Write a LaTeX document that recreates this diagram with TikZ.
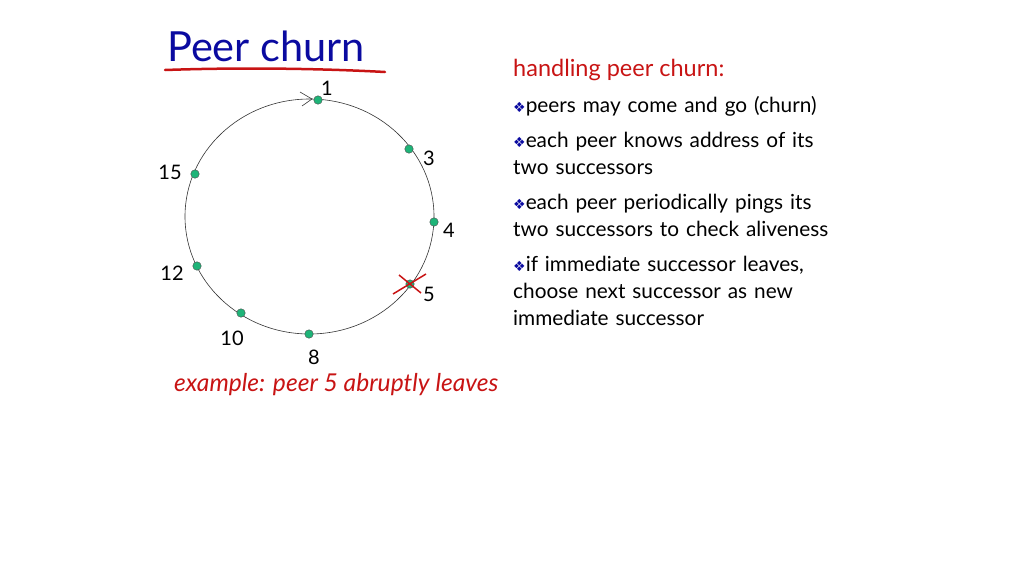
\documentclass[tikz,border=0pt]{standalone}
\usepackage{fontspec}
\setmainfont{Lato}
\newfontfamily\dejavu{DejaVu Sans}
\definecolor{titleblue}{RGB}{10,10,160}
\definecolor{slred}{RGB}{200,20,20}
\definecolor{dotgreen}{RGB}{30,180,120}
\begin{document}
\begin{tikzpicture}[x=1pt,y=-1pt,
  peer/.style={circle,draw=black!70,fill=dotgreen,inner sep=0pt,minimum size=8.5pt,line width=0.4pt},
  lbl/.style={font=\fontsize{20}{22}\selectfont},
  txt/.style={anchor=west,font=\fontsize{20.8}{27}\selectfont,align=left,text width=400pt,inner sep=0pt}]
\useasboundingbox (0,0) rectangle (1024,576);
\node[anchor=west,text=titleblue,font=\fontsize{41.5}{44}\selectfont,inner sep=0pt] (title) at (167,46) {Peer churn};
\draw[slred,line width=2.5pt,line cap=round] (165,70) .. controls (250,67) and (330,69) .. (385,72);
\draw[black!80,line width=0.6pt] (309.5,216.5) ellipse [x radius=124.5,y radius=117.5];
\draw[black!80,line width=0.6pt] (300,92) -- (312,99) -- (302,106);
\foreach \n/\x/\y/\lx/\ly in {1/318/100/327/88, 3/409/149/429/158, 4/434/222/449/230, 5/410/284/429/294, 8/309/334/314/357, 10/241/313/232/338, 12/197/266/172/273, 15/195/174/170/172}{
  \node[peer] (p\n) at (\x,\y) {};
  \node[lbl] (l\n) at (\lx,\ly) {\n};
}
\draw[slred,line width=1.5pt] (p5.center) ++(-11,-9) -- ++(22,18) (p5.center) ++(-17,10) -- ++(33,-20);
\node[anchor=west,text=slred,font=\itshape\fontsize{24.6}{27}\selectfont,inner sep=0pt] (ex) at (174,385) {example: peer 5 abruptly leaves};
\node[anchor=west,text=slred,font=\fontsize{23.5}{26}\selectfont,inner sep=0pt] (hd) at (513,70) {handling peer churn:};
\newcommand{\bul}{{\dejavu\color{titleblue}\fontsize{14}{14}\selectfont ❖}}
\node[txt,anchor=north west] (t) at (513,96) {%
\bul peers may come and go (churn)\\[8pt]
\bul each peer knows address of its\\ two successors\\[8pt]
\bul each peer periodically pings its\\ two successors to check aliveness\\[8pt]
\bul if immediate successor leaves,\\ choose next successor as new\\ immediate successor};
\end{tikzpicture}
\end{document}
